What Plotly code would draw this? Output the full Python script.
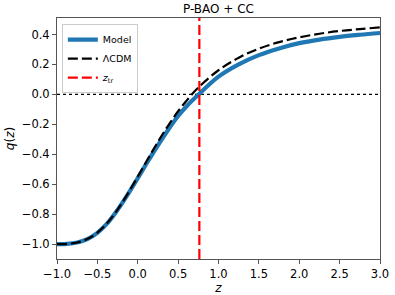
import plotly.graph_objects as go

z_vals = [-1.0, -0.875, -0.75, -0.625, -0.5, -0.375, -0.25, -0.125, 0.0, 0.125, 0.25,
          0.375, 0.5, 0.625, 0.75, 1.0, 1.25, 1.5, 1.75, 2.0, 2.25, 2.5, 2.75, 3.0]
lcdm_q = [-1.0, -0.999, -0.990, -0.967, -0.924, -0.858, -0.770, -0.665, -0.550, -0.432, -0.317,
          -0.210, -0.113, -0.029, 0.045, 0.161, 0.245, 0.305, 0.349, 0.381, 0.405, 0.423, 0.436, 0.447]
model_q = [-1.0, -0.999, -0.990, -0.967, -0.925, -0.860, -0.772, -0.670, -0.560, -0.448, -0.340,
           -0.238, -0.145, -0.068, -0.003, 0.118, 0.200, 0.262, 0.307, 0.342, 0.366, 0.384, 0.398, 0.410]
z_tr = 0.763
x_range = [-1.0, 3.0]
y_range = [-1.1, 0.51]
x_ticks = [-1.0, -0.5, 0.0, 0.5, 1.0, 1.5, 2.0, 2.5, 3.0]
y_ticks = [-1.0, -0.8, -0.6, -0.4, -0.2, 0.0, 0.2, 0.4]

font = "DejaVu Sans"
fig = go.Figure()
fig.add_trace(go.Scatter(x=z_vals, y=model_q, mode="lines", name="Model",
                         line=dict(color="#1f77b4", width=4.2, shape="spline")))
fig.add_trace(go.Scatter(x=z_vals, y=lcdm_q, mode="lines", name="ΛCDM",
                         line=dict(color="black", width=2.2, dash="10px,4px", shape="spline")))
fig.add_trace(go.Scatter(x=[z_tr, z_tr], y=y_range, mode="lines", name="<i>z</i><sub>tr</sub>",
                         line=dict(color="red", width=2.2, dash="10px,4px")))

fig.add_shape(type="line", xref="x domain", yref="y", x0=0, x1=1, y0=0, y1=0,
              line=dict(color="black", width=1.2, dash="dot"), layer="below")

axis_common = dict(showline=True, linecolor="#555", linewidth=1, mirror=True,
                   ticks="outside", ticklen=4, tickcolor="#555", showgrid=False,
                   zeroline=False, automargin=False,
                   tickfont=dict(family=font, size=11.5, color="black"))
fig.update_xaxes(range=x_range, tickvals=x_ticks, tickformat=".1f",
                 title=dict(text="<i>z</i>", font=dict(family=font, size=12), standoff=6),
                 **axis_common)
fig.update_yaxes(range=y_range, tickvals=y_ticks, tickformat=".1f",
                 title=dict(text="<i>q</i>(<i>z</i>)", font=dict(family=font, size=12), standoff=4),
                 **axis_common)

fig.update_layout(
    width=395, height=295,
    margin=dict(l=57, r=15, t=18, b=36),
    paper_bgcolor="white", plot_bgcolor="white",
    title=dict(text="P-BAO + CC", x=0.553, xanchor="center", y=0.985, yanchor="top",
               font=dict(family=font, size=12, color="black")),
    font=dict(family=font, color="black"),
    legend=dict(x=0.015, y=0.975, xanchor="left", yanchor="top",
                bgcolor="rgba(255,255,255,0.85)", bordercolor="#ccc", borderwidth=1,
                font=dict(family=font, size=9.5), itemwidth=30, tracegroupgap=0),
    showlegend=True,
)
fig.write_html("out.html", config={"displayModeBar": False},
               post_script="document.body.style.margin='0';document.body.style.overflow='hidden';")
